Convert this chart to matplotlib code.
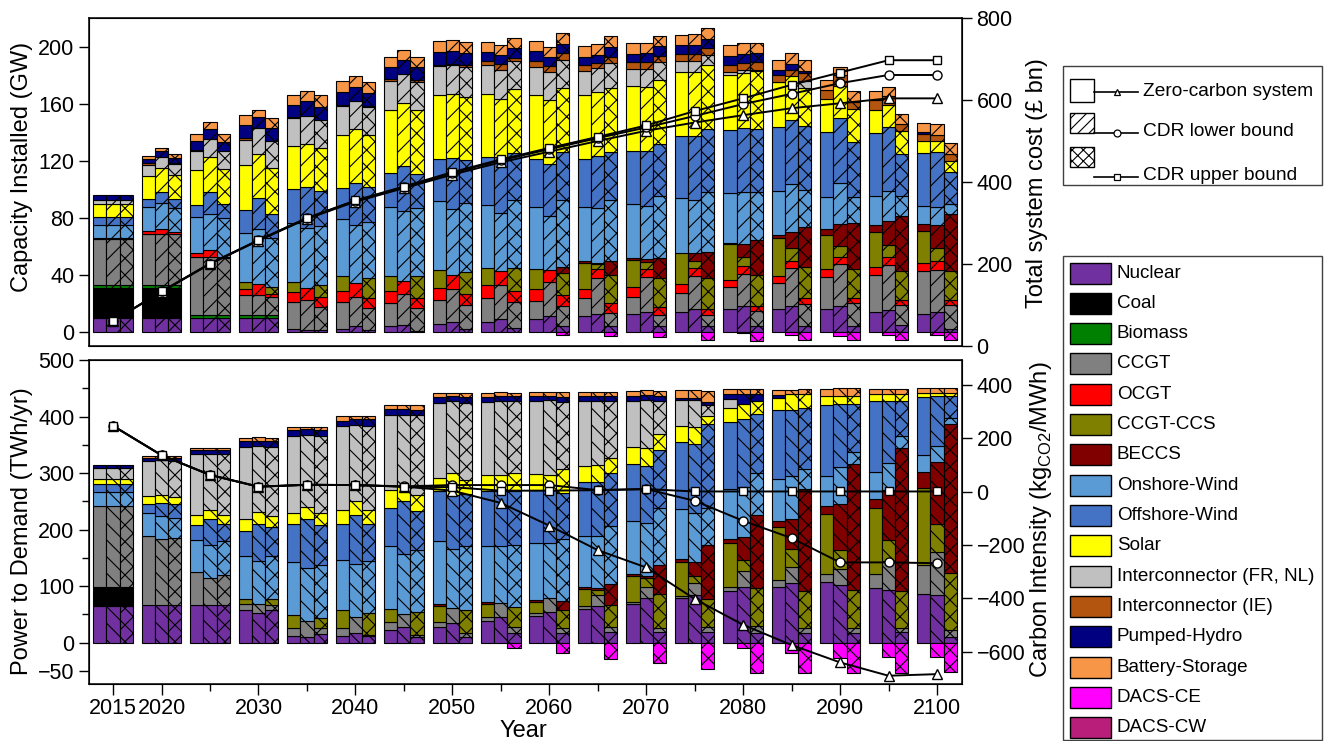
import numpy as np
import matplotlib
matplotlib.use('Agg')
import matplotlib.pyplot as plt
from matplotlib.patches import Rectangle
from matplotlib.lines import Line2D
from matplotlib.ticker import FixedLocator

plt.rcParams['font.family'] = ['Liberation Sans', 'DejaVu Sans']
plt.rcParams['mathtext.fontset'] = 'custom'
plt.rcParams['mathtext.rm'] = 'Liberation Sans'
plt.rcParams['hatch.linewidth'] = 0.8

# ---------------- data ----------------
years = [2015, 2020, 2025, 2030, 2035, 2040, 2045, 2050, 2055,
         2060, 2065, 2070, 2075, 2080, 2085, 2090, 2095, 2100]

techs = ['Nuclear', 'Coal', 'Biomass', 'CCGT', 'OCGT', 'CCGT-CCS', 'BECCS',
         'Onshore-Wind', 'Offshore-Wind', 'Solar', 'Interconnector (FR, NL)',
         'Interconnector (IE)', 'Pumped-Hydro', 'Battery-Storage', 'DACS-CE', 'DACS-CW']
colors = ['#7030A0', '#000000', '#008000', '#808080', '#FF0000', '#808000', '#800000',
          '#5B9BD5', '#4472C4', '#FFFF00', '#C0C0C0', '#B3540F', '#000080', '#F79646',
          '#FF00FF', '#B81E7A']

scenarios = ['Zero-carbon system', 'CDR lower bound', 'CDR upper bound']

# Capacity installed (GW) - zero-carbon system
cap_zero = {
    'Nuclear': [9.5, 9.5, 9.5, 9.5, 1.6, 1.6, 3.7, 5.1, 7.0, 8.9, 11.0, 12.4, 14.0, 16.0, 16.0, 16.0, 14.0, 12.4],
    'Coal': [21, 21, 0, 0, 0, 0, 0, 0, 0, 0, 0, 0, 0, 0, 0, 0, 0, 0],
    'Biomass': [2.3, 2.3, 2.3, 2.3, 0, 0, 0, 0, 0, 0, 0, 0, 0, 0, 0, 0, 0, 0],
    'CCGT': [32.5, 36, 40.8, 14, 19, 19, 16.8, 17, 17, 13, 12.4, 12.1, 13.3, 15.6, 18, 22.6, 25.6, 30.3],
    'OCGT': [0.5, 1.6, 2.3, 4.2, 7, 8, 8.4, 8.6, 8.6, 8, 6.5, 7, 6, 4.7, 5.4, 5.1, 5.8, 5.6],
    'CCGT-CCS': [0, 0, 0, 5.1, 7, 10.5, 10.3, 12.4, 12.4, 14, 18.4, 19, 22, 25, 26, 24, 24.5, 22.4],
    'BECCS': [0, 0, 0, 0, 0, 0, 0, 0, 0, 0, 1.4, 1.4, 0, 1.2, 2.3, 4, 4.7, 5.1],
    'Onshore-Wind': [9.3, 17, 25.6, 33.8, 42, 40, 48, 48.5, 43.6, 43.4, 37.8, 37.8, 38.5, 34.5, 31, 22.8, 20.3, 12.1],
    'Offshore-Wind': [5.4, 5.4, 8.2, 16.3, 23.3, 22, 24, 29.6, 33.8, 33.6, 33.8, 37.3, 43.4, 44.8, 45.2, 45.4, 44.3, 37.3],
    'Solar': [9.3, 16.3, 25, 31.5, 30, 37, 44.5, 45, 44.3, 45, 44.8, 45, 44.8, 38, 31, 23.3, 16.3, 8.2],
    'Interconnector (FR, NL)': [2.3, 8, 12.8, 18, 19.8, 20, 20.3, 20.3, 20.3, 19.8, 17, 12, 7.5, 2.3, 0.5, 0, 0, 0],
    'Interconnector (IE)': [0, 1, 0.7, 1.2, 1, 1, 1.2, 0.5, 2.6, 4.2, 4, 5, 5.4, 5.1, 4.7, 6.3, 7, 5.4],
    'Pumped-Hydro': [3.5, 3, 6.3, 8.9, 8, 8.9, 8.6, 9.3, 6.3, 6.8, 5.8, 6, 6.3, 6.5, 3.5, 0, 0, 1],
    'Battery-Storage': [0, 2.3, 4.9, 7, 7.5, 7.7, 7, 7.7, 7, 7.2, 7.2, 7.5, 7.2, 7.5, 7, 7, 6.5, 6.8],
}
# Capacity installed (GW) - CDR lower bound
cap_low = {
    'Nuclear': [9.5, 9.5, 9.5, 9.5, 1.4, 3.7, 4.9, 7, 8.9, 11, 12.4, 14, 15.8, 18, 18, 17.7, 15.4, 14],
    'Coal': [21, 21, 0, 0, 0, 0, 0, 0, 0, 0, 0, 0, 0, 0, 0, 0, 0, 0],
    'Biomass': [2.3, 2.3, 2.3, 2.3, 0, 0, 0, 0, 0, 0, 0, 0, 0, 0, 0, 0, 0, 0],
    'CCGT': [32.5, 36, 40.8, 14, 21, 20.5, 21.4, 23.3, 24, 24, 25, 24.5, 23.5, 22.8, 26.8, 29.6, 31.5, 29.6],
    'OCGT': [0.5, 3.5, 4.7, 8, 8, 10, 9.6, 9.8, 9.8, 8.2, 6.3, 5.8, 5.6, 5.1, 4.9, 4.9, 5.4, 6],
    'CCGT-CCS': [0, 0, 0, 0, 0, 0, 0, 0, 0, 0, 3.7, 4.7, 4.9, 6.5, 9.3, 8, 8.6, 9.3],
    'BECCS': [0, 0, 0, 0, 0, 0, 0, 0, 0, 0, 0.6, 2.3, 5.6, 9.3, 11, 15.4, 17, 15.6],
    'Onshore-Wind': [9.3, 18, 25.6, 38, 42, 40.8, 49, 46, 40.3, 37.8, 39, 36.6, 37.3, 36, 33.3, 29, 20.7, 12.8],
    'Offshore-Wind': [5.4, 7.7, 15.2, 22, 29, 29, 31, 36, 39.6, 36.4, 36, 39, 44.3, 45.4, 45.2, 45, 45, 38.5],
    'Solar': [9.3, 16.8, 24.5, 31, 30, 38, 44.5, 44.3, 40.8, 44.8, 44.8, 44.8, 45, 38.5, 31, 22.6, 15.6, 8.2],
    'Interconnector (FR, NL)': [2.3, 7.7, 12.8, 18, 19.6, 19.8, 20.3, 20.5, 20.3, 19.8, 17, 12.4, 7.7, 1.6, 0, 0, 0, 0],
    'Interconnector (IE)': [0, 0, 0, 0, 0, 0, 0, 1, 4.2, 4, 3.5, 4.7, 5, 5.4, 4, 7.7, 5.8, 4],
    'Pumped-Hydro': [3.5, 4.2, 7, 8, 10.7, 9.8, 10, 9.3, 6.3, 6.5, 5.8, 6.5, 6.3, 6.3, 4.2, 0, 0, 0],
    'Battery-Storage': [0, 2.3, 4.7, 5, 7, 7.7, 7, 7.2, 7, 7.5, 7.5, 7.5, 7.7, 7.7, 7.5, 5.8, 6.5, 7.7],
    'DACS-CE': [0, 0, 0, 0, 0, 0, 0, 0, 0, 0, 0, 0, 0, -1, -2, -2.8, -2.1, -2.1],
}
# Capacity installed (GW) - CDR upper bound
cap_up = {
    'Nuclear': [9.5, 9.5, 9.5, 9.5, 1.4, 1.2, 0.7, 1.9, 2.6, 3.7, 3.7, 3.7, 3.7, 3.7, 3.7, 3.7, 4.9, 1.9],
    'Coal': [21, 21, 0, 0, 0, 0, 0, 0, 0, 0, 0, 0, 0, 0, 0, 0, 0, 0],
    'Biomass': [2.3, 2.3, 2.3, 2.3, 0, 0, 0, 0, 0, 0, 0, 0, 0, 0, 0, 0, 0, 0],
    'CCGT': [32.5, 35.7, 39.6, 12.8, 15.6, 15.6, 16, 17, 18.6, 14, 9.3, 8, 8, 10.5, 15.6, 16.3, 14, 17],
    'OCGT': [0.5, 1.6, 1, 2, 7.2, 7.2, 7.2, 7.5, 7.7, 8.2, 7, 5.8, 4, 4, 4.2, 3.5, 3.5, 3.5],
    'CCGT-CCS': [0, 0, 0, 5, 8.6, 13.8, 15, 15.4, 15.6, 15.2, 19.8, 20.3, 21.7, 21.7, 21.7, 20.3, 20.5, 20.5],
    'BECCS': [0, 0, 0, 0, 0, 0, 0, 0, 0, 4.2, 10, 14.2, 18.6, 24.5, 28, 32.6, 38, 39.6],
    'Onshore-Wind': [9.3, 17, 27.5, 34, 41, 39, 48, 48.7, 48, 47, 42.4, 43, 42, 33.8, 26, 18.2, 14, 7],
    'Offshore-Wind': [5.4, 6.3, 10, 17, 25, 24.5, 23.8, 29.8, 33, 33.8, 33.8, 36.8, 44.3, 44.3, 45.4, 38.5, 30, 22.6],
    'Solar': [9.3, 16.3, 24, 32, 30, 37, 44.8, 44.3, 45, 45, 45, 44.8, 45, 40, 26.3, 22.8, 15.8, 7.7],
    'Interconnector (FR, NL)': [2.3, 8.2, 12.8, 19, 19.6, 19, 19.3, 21, 19, 19.6, 17.2, 12.4, 7, 0.7, 5, 0, 0, 0],
    'Interconnector (IE)': [0, 0.5, 0, 0, 0, 0.7, 1.6, 1.2, 2.3, 4.7, 4.7, 4.7, 4.7, 5.8, 5.8, 5.1, 5.1, 4.7],
    'Pumped-Hydro': [3.5, 3.5, 6.3, 9, 9.3, 9.3, 9.3, 8.6, 7, 6.5, 7, 7, 6.3, 6.3, 1.2, 0, 0, 0],
    'Battery-Storage': [0, 2.6, 5.4, 7, 8.4, 7.7, 7.2, 7.7, 7, 7.5, 7.2, 7, 7.7, 7, 7.5, 7.7, 7, 7.9],
    'DACS-CE': [0, 0, 0, 0, 0, 0, 0, 0, 0, -2.1, -2.8, -4, -5.8, -6.5, -5.6, -5.6, -5.6, -5.6],
}

# Power to demand (TWh/yr) - zero-carbon system
gen_zero = {
    'Nuclear': [64.5, 66, 66, 57.5, 11.7, 11.7, 22.3, 28, 38.7, 47, 60.4, 69.2, 78.6, 92, 98.6, 107.4, 97.4, 86.9],
    'Coal': [34, 0, 0, 0, 0, 0, 0, 0, 0, 0, 0, 0, 0, 0, 0, 0, 0, 0],
    'CCGT': [143.8, 123, 58.7, 10.6, 13.5, 13.5, 14.7, 8.8, 7, 4.7, 4, 3, 4, 7, 11.7, 14.7, 23.5, 49.9],
    'CCGT-CCS': [0, 0, 0, 10, 23.5, 32.3, 23.5, 27.6, 22.3, 20.5, 31, 45, 59.3, 77.5, 95, 105.6, 117.4, 136.7],
    'BECCS': [0, 0, 0, 0, 0, 0, 0, 4.7, 4, 4, 3, 4.7, 5.3, 7.6, 10.6, 14.7, 15.8, 27.6],
    'Onshore-Wind': [23.5, 41, 57, 75, 94, 88, 109.7, 111.5, 99.8, 99.8, 91, 94, 89.8, 88, 73.4, 52.8, 48.7, 31],
    'Offshore-Wind': [14.7, 14.7, 27, 45, 67.5, 64.5, 68, 88, 96.8, 94, 94, 99.8, 117.4, 117.4, 121.5, 125, 124.4, 102],
    'Solar': [8.8, 14.7, 17.6, 20.5, 18.8, 24.6, 31.7, 23.5, 28, 28, 29.3, 31, 29.3, 26.4, 22.3, 17, 12.9, 7.6],
    'Interconnector (FR, NL)': [20.5, 62.8, 108, 127, 136.7, 148.5, 132.6, 132, 130, 130, 114.4, 81.6, 45, 14.7, 0, 0, 0, 0],
    'Pumped-Hydro': [4.7, 4.7, 5.9, 10.6, 10, 8.8, 10, 10, 8.8, 7.6, 8.8, 8.8, 4.7, 8.8, 5, 0, 0, 0],
    'Battery-Storage': [0, 2.9, 4.7, 5.9, 5.9, 8.8, 8.8, 7.6, 7, 7.6, 7.6, 8.8, 12.9, 8.8, 9.7, 12.3, 9.4, 8.8],
}
# Power to demand (TWh/yr) - CDR lower bound
gen_low = {
    'Nuclear': [64.5, 66, 66, 52.8, 9.4, 17.6, 27, 35.2, 45.8, 55, 64.5, 78.6, 84.5, 99, 106, 102, 94, 84.5],
    'Coal': [34, 0, 0, 0, 0, 0, 0, 0, 0, 0, 0, 0, 0, 0, 0, 0, 0, 0],
    'CCGT': [143.8, 117, 48, 16.4, 29.3, 28, 24.6, 26.4, 24.6, 23.5, 19.4, 20.5, 21.7, 27.6, 28, 28, 50.5, 76.3],
    'CCGT-CCS': [0, 0, 0, 0, 0, 0, 0, 0, 0, 0, 8.8, 14.7, 11.7, 20.5, 32.3, 34.6, 36.4, 49.9],
    'BECCS': [0, 0, 0, 0, 0, 0, 0, 0, 0, 0, 4.7, 4, 25.2, 40, 52.8, 81, 89.2, 108.6],
    'Onshore-Wind': [23.5, 41, 58.7, 75, 94, 94, 105.6, 104.5, 99.8, 98, 92, 94, 86.3, 88, 76, 64.5, 47, 29.3],
    'Offshore-Wind': [14.7, 23.5, 45.8, 65.7, 86, 86.9, 92.7, 95.7, 98.6, 94, 95.7, 101.5, 122, 120, 115.6, 111.5, 110, 88],
    'Solar': [8.8, 13.5, 15.8, 20.5, 20.5, 24.6, 27.6, 37.6, 28, 27, 29.3, 31, 30.5, 26.4, 29.3, 14.7, 12.9, 5.9],
    'Interconnector (FR, NL)': [20.5, 62.8, 99.8, 117, 127.3, 133.8, 126, 128, 130, 131.5, 112.7, 84.5, 47, 0, 0, 0, 0, 0],
    'Pumped-Hydro': [4.7, 2.9, 5.9, 10, 10.6, 10, 10.6, 8.8, 8.8, 7.6, 8.8, 8.8, 4.7, 17.6, 0, 0, 0, 0],
    'Battery-Storage': [0, 2.9, 4.7, 5.9, 4, 5.9, 5.9, 5.9, 7, 7.6, 7.6, 8.8, 12.9, 8.8, 7.6, 13.5, 9.4, 8.8],
    'DACS-CE': [0, 0, 0, 0, 0, 0, 0, 0, 0, 0, 0, 0, 0, -8.8, -18.8, -27, -25.8, -24.6],
}
# Power to demand (TWh/yr) - CDR upper bound
gen_up = {
    'Nuclear': [64.5, 66, 66, 57.5, 15.3, 11.7, 10.6, 10.6, 17.6, 17.6, 19.4, 19.4, 19.4, 17, 17, 17, 19.4, 9.4],
    'Coal': [34, 0, 0, 0, 0, 0, 0, 0, 0, 0, 0, 0, 0, 0, 0, 0, 0, 0],
    'CCGT': [143.8, 120, 54.6, 8.8, 10, 2, 3, 7, 10.6, 7.6, 7.6, 5.9, 7.6, 11.7, 8.8, 8.8, 5.9, 12.9],
    'CCGT-CCS': [0, 0, 0, 11.7, 17.6, 39.3, 41, 41, 35.2, 32.3, 39.3, 60.4, 51, 67.5, 66.3, 67.5, 66.3, 101],
    'BECCS': [0, 0, 0, 0, 0, 0, 0, 0, 0, 16.4, 37, 51, 94, 129, 180, 222, 253.5, 263],
    'Onshore-Wind': [23.5, 35, 59.9, 76, 94, 91.5, 109.7, 113, 110, 109.7, 104, 101.5, 67, 74.5, 35.2, 21.7, 20.5, 11.7],
    'Offshore-Wind': [14.7, 23.5, 29.3, 51, 72, 65.7, 69, 92, 95, 82, 92, 102, 148, 105.6, 107.4, 85, 61.6, 38],
    'Solar': [8.8, 13, 16.4, 19.4, 20, 24.6, 28, 23.5, 32.3, 41, 28, 29.3, 13.5, 22.3, 24.6, 14.7, 12.9, 5.9],
    'Interconnector (FR, NL)': [20.5, 64.5, 106.8, 121.5, 136.7, 148.5, 140.8, 136.7, 126, 120, 99.8, 58.7, 20.5, 0, 0, 0, 0, 0],
    'Pumped-Hydro': [4.7, 4.7, 7, 10.6, 10, 11.7, 10, 10, 8.8, 8.8, 8.8, 8.8, 4.7, 11.7, 0, 0, 0, 0],
    'Battery-Storage': [0, 2.9, 4.7, 5.9, 5.9, 5.9, 8.8, 7.6, 7, 7.6, 7.6, 8.8, 20, 8.8, 8.8, 13.5, 9.4, 8.8],
    'DACS-CE': [0, 0, 0, 0, 0, 0, 0, 0, -8.8, -18.8, -29.3, -36.4, -47, -54, -54, -52.8, -53.4, -51],
}

# Total system cost (GBP bn)
cost_zero = [61, 132, 200, 257, 310, 352, 385, 418, 448, 474, 500, 525, 545, 563, 580, 592, 604, 604]
cost_low = [61, 133, 201, 258, 312, 354, 388, 422, 453, 480, 507, 533, 561, 590, 615, 641, 661, 661]
cost_up = [61, 133, 201, 258, 312, 355, 389, 424, 455, 483, 510, 538, 573, 604, 637, 667, 697, 697]

# Carbon intensity (kgCO2/MWh)
ci_zero = [247, 137, 63, 19, 26, 25, 19, 4, -42, -127, -219, -284, -402, -499, -575, -640, -690, -684]
ci_low = [247, 137, 63, 19, 26, 25, 20, 25, 25, 25, 6, 10, -34, -109, -174, -265, -265, -268]
ci_up = [247, 137, 63, 19, 26, 25, 19, 17, 4, 4, 6, 10, 1, 1, 1, 1, 1, 1]

# ---------------- figure ----------------
W, H = 1329, 741
fig = plt.figure(figsize=(W / 100, H / 100), dpi=100)


def rect(l, t, r, b):
    return [l / W, 1 - b / H, (r - l) / W, (b - t) / H]


ax1 = fig.add_axes(rect(89, 18, 962, 346))
ax2 = fig.add_axes(rect(89, 360, 962, 684))

yrs = np.array(years, float)
n = len(years)
bw = 1.36
offsets = [-bw, 0.0, bw]


def draw_stacks(ax, datasets, hatches):
    for data, off, hatch in zip(datasets, offsets, hatches):
        x = yrs + off
        pos = np.zeros(n)
        neg = np.zeros(n)
        for tech, col in zip(techs, colors):
            vals = np.array(data.get(tech, [0] * n), float)
            mp = vals > 0
            if mp.any():
                ax.bar(x[mp], vals[mp], bw, bottom=pos[mp], color=col,
                       edgecolor='black', linewidth=0.8, hatch=hatch)
            pos = pos + np.where(mp, vals, 0)
            mn = vals < 0
            if mn.any():
                ax.bar(x[mn], vals[mn], bw, bottom=neg[mn], color=col,
                       edgecolor='black', linewidth=0.8, hatch=hatch)
            neg = neg + np.where(mn, vals, 0)


draw_stacks(ax1, [cap_zero, cap_low, cap_up], ['', '//', 'xx'])
draw_stacks(ax2, [gen_zero, gen_low, gen_up], ['', '\\\\', 'xx'])

xlim = (2012.52, 2102.58)
for ax in (ax1, ax2):
    ax.set_xlim(*xlim)
    for s in ax.spines.values():
        s.set_linewidth(1.1)

ax1.set_ylim(-10, 220)
ax1.yaxis.set_major_locator(FixedLocator([0, 40, 80, 120, 160, 200]))
ax1.tick_params(axis='x', bottom=False, labelbottom=False)
ax1.tick_params(axis='y', direction='out', length=7, width=1, labelsize=15.5)

ax2.set_ylim(-73, 500)
ax2.yaxis.set_major_locator(FixedLocator([-50, 0, 100, 200, 300, 400, 500]))
ax2.yaxis.set_minor_locator(FixedLocator([50, 150, 250, 350, 450]))
ax2.tick_params(axis='y', which='major', direction='out', length=7, width=1, labelsize=15.5)
ax2.tick_params(axis='y', which='minor', direction='out', length=5, width=1)
ax2.xaxis.set_major_locator(FixedLocator([2015, 2020, 2030, 2040, 2050, 2060, 2070, 2080, 2090, 2100]))
ax2.xaxis.set_minor_locator(FixedLocator([2025, 2035, 2045, 2055, 2065, 2075, 2085, 2095]))
ax2.tick_params(axis='x', which='major', direction='out', length=8, width=1, labelsize=15.5, pad=2)
ax2.tick_params(axis='x', which='minor', direction='out', length=5, width=1)

# lines on twin axes
mk = dict(color='black', lw=1.4, mfc='white', mec='black', mew=1.0)
ax1r = ax1.twinx()
ax1r.plot(years, cost_zero, marker='^', ms=6.5, **mk)
ax1r.plot(years, cost_low, marker='o', ms=6.5, **mk)
ax1r.plot(years, cost_up, marker='s', ms=6, **mk)
ax1r.set_ylim(0, 800)
ax1r.yaxis.set_major_locator(FixedLocator([0, 200, 400, 600, 800]))
ax1r.tick_params(axis='y', direction='out', length=7, width=1, labelsize=15.5)

ax2r = ax2.twinx()
ax2r.plot(years, ci_zero, marker='^', ms=6.5, **mk)
ax2r.plot(years, ci_low, marker='o', ms=6.5, **mk)
ax2r.plot(years, ci_up, marker='s', ms=6, **mk)
ax2r.set_ylim(-721, 494)
ax2r.yaxis.set_major_locator(FixedLocator([-600, -400, -200, 0, 200, 400]))
ax2r.tick_params(axis='y', direction='out', length=7, width=1, labelsize=15.5)

# axis labels
fig.text(22 / W, 1 - 167 / H, 'Capacity Installed (GW)', rotation=90, ha='center', va='center', fontsize=17)
fig.text(22 / W, 1 - 531 / H, 'Power to Demand (TWh/yr)', rotation=90, ha='center', va='center', fontsize=17)
fig.text(1037 / W, 1 - 183 / H, 'Total system cost (\u00a3 bn)', rotation=90, ha='center', va='center', fontsize=17)
fig.text(1041 / W, 1 - 520 / H, 'Carbon Intensity (kg$_{\\mathregular{CO2}}$/MWh)', rotation=90,
         ha='center', va='center', fontsize=17)
fig.text(523 / W, 1 - 731 / H, 'Year', ha='center', va='center', fontsize=17)

# ---------- scenario legend (manual) ----------
L1 = (1063, 66, 1322, 185)
lax1 = fig.add_axes(rect(*L1))
lax1.set_xlim(L1[0], L1[2])
lax1.set_ylim(L1[3], L1[1])
lax1.axis('off')
lax1.add_patch(Rectangle((L1[0], L1[1]), L1[2] - L1[0], L1[3] - L1[1], fill=False,
                         edgecolor='#404040', lw=1.0, clip_on=False))
rows = [((79, 23), 92, '^', '', 92), ((113, 20), 133, 'o', '///', 132), ((147, 20), 176.5, 's', 'xxx', 175)]
for (py, ph), ly, mkr, hatch, ty in rows:
    lax1.add_patch(Rectangle((1070, py), 24, ph, facecolor='white', edgecolor='black',
                             lw=1.0, hatch=hatch))
    lax1.add_line(Line2D([1094, 1138], [ly, ly], color='black', lw=1.2))
    lax1.add_line(Line2D([1117], [ly], marker=mkr, ms=5, mfc='white', mec='black', mew=0.9))
for ((py, ph), ly, mkr, hatch, ty), lab in zip(rows, scenarios):
    lax1.text(1143, ty, lab, ha='left', va='center', fontsize=13.8)

# ---------- technology legend (manual) ----------
L2 = (1063, 256, 1322, 740)
lax2 = fig.add_axes(rect(*L2))
lax2.set_xlim(L2[0], L2[2])
lax2.set_ylim(L2[3], L2[1])
lax2.axis('off')
lax2.add_patch(Rectangle((L2[0], L2[1]), L2[2] - L2[0], L2[3] - L2[1], fill=False,
                         edgecolor='#404040', lw=1.0, clip_on=False))
for i, (tech, col) in enumerate(zip(techs, colors)):
    cy = 273.0 + 30.33 * i
    lax2.add_patch(Rectangle((1070, cy - 10.5), 41, 21, facecolor=col, edgecolor='black', lw=1.0))
    lax2.text(1117, cy, tech, ha='left', va='center', fontsize=13.6)

fig.savefig('out.png', dpi=100)
